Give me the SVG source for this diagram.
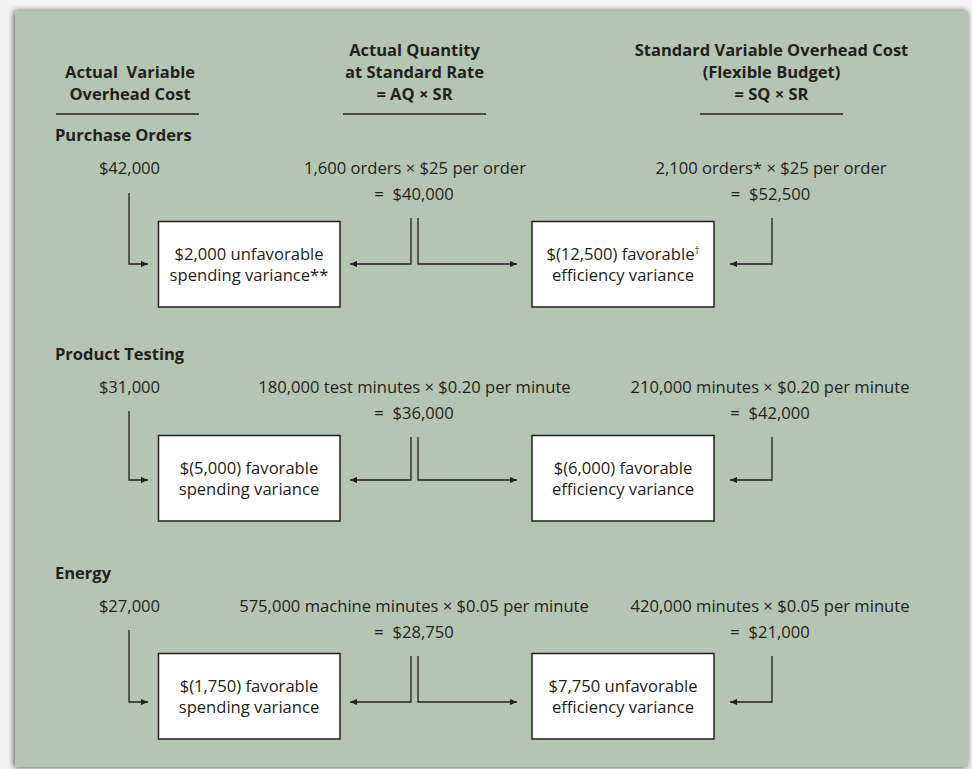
<svg xmlns="http://www.w3.org/2000/svg" width="972" height="769" viewBox="0 0 972 769">
<defs>
<style>
.t{font-family:"Open Sans","Liberation Sans",sans-serif;font-size:16.6px;fill:#231f20;text-anchor:middle}
.b{font-weight:bold;font-size:16.5px}
.l{text-anchor:start}
.ln{fill:none;stroke:#231f20;stroke-width:1.4}
.box{fill:#ffffff;stroke:#231f20;stroke-width:1.5}
.ar{fill:none;stroke:#231f20;stroke-width:1.3;marker-end:url(#ah)}
</style>
<marker id="ah" markerUnits="userSpaceOnUse" markerWidth="8" markerHeight="6" refX="7" refY="3" orient="auto">
<path d="M0,0 L7,3 L0,6 Z" fill="#231f20"/>
</marker>
<filter id="sh" x="-5%" y="-5%" width="110%" height="110%">
<feGaussianBlur in="SourceAlpha" stdDeviation="3"/>
<feOffset dx="-1" dy="0"/>
<feComponentTransfer><feFuncA type="linear" slope="0.7"/></feComponentTransfer>
<feMerge><feMergeNode/><feMergeNode in="SourceGraphic"/></feMerge>
</filter>
</defs>
<rect x="0" y="0" width="972" height="769" fill="#f4f4f4"/>
<rect x="15" y="11" width="953" height="756" fill="#b4c6b3" filter="url(#sh)"/>

<g id="headers">
<text class="t b" x="130" y="78">Actual&#160; Variable</text>
<text class="t b" x="130" y="100">Overhead Cost</text>
<line class="ln" x1="56" y1="114" x2="199" y2="114"/>
<text class="t b" x="414.5" y="56">Actual Quantity</text>
<text class="t b" x="414.5" y="78">at Standard Rate</text>
<text class="t b" x="414.5" y="100">= AQ × SR</text>
<line class="ln" x1="343" y1="114" x2="486" y2="114"/>
<text class="t b" x="771.5" y="56">Standard Variable Overhead Cost</text>
<text class="t b" x="771.5" y="78">(Flexible Budget)</text>
<text class="t b" x="771.5" y="100">= SQ × SR</text>
<line class="ln" x1="700" y1="114" x2="843" y2="114"/>
</g>

<g id="row-purchase-orders">
<text class="t b l" x="55" y="141">Purchase Orders</text>
<text class="t" x="129.5" y="174">$42,000</text>
<text class="t" x="415" y="174">1,600 orders × $25 per order</text>
<text class="t" x="414" y="200">=&#160; $40,000</text>
<text class="t" x="771" y="174">2,100 orders* × $25 per order</text>
<text class="t" x="770.5" y="200">=&#160; $52,500</text>
</g>
<g id="box-po-spending">
<rect class="box" x="158.5" y="221.5" width="181.5" height="85.5"/>
<text class="t" x="249" y="260">$2,000 unfavorable</text>
<text class="t" x="249" y="281">spending variance**</text>
</g>
<g id="box-po-efficiency">
<rect class="box" x="532" y="221.5" width="182" height="85.5"/>
<text class="t" x="623" y="260">$(12,500) favorable<tspan font-size="10" dy="-6">†</tspan></text>
<text class="t" x="623" y="281">efficiency variance</text>
</g>

<g id="row-product-testing">
<text class="t b l" x="55" y="360">Product Testing</text>
<text class="t" x="129.5" y="393">$31,000</text>
<text class="t" x="414.5" y="393">180,000 test minutes × $0.20 per minute</text>
<text class="t" x="414" y="419">=&#160; $36,000</text>
<text class="t" x="770" y="393">210,000 minutes × $0.20 per minute</text>
<text class="t" x="770" y="419">=&#160; $42,000</text>
</g>
<g id="box-pt-spending">
<rect class="box" x="158.5" y="435.5" width="181.5" height="85.5"/>
<text class="t" x="249" y="474">$(5,000) favorable</text>
<text class="t" x="249" y="495">spending variance</text>
</g>
<g id="box-pt-efficiency">
<rect class="box" x="532" y="435.5" width="182" height="85.5"/>
<text class="t" x="623" y="474">$(6,000) favorable</text>
<text class="t" x="623" y="495">efficiency variance</text>
</g>

<g id="row-energy">
<text class="t b l" x="55" y="579">Energy</text>
<text class="t" x="129.5" y="612">$27,000</text>
<text class="t" x="414" y="612">575,000 machine minutes × $0.05 per minute</text>
<text class="t" x="414" y="638">=&#160; $28,750</text>
<text class="t" x="770" y="612">420,000 minutes × $0.05 per minute</text>
<text class="t" x="770" y="638">=&#160; $21,000</text>
</g>
<g id="box-en-spending">
<rect class="box" x="158.5" y="653.5" width="181.5" height="85.5"/>
<text class="t" x="249" y="692">$(1,750) favorable</text>
<text class="t" x="249" y="713">spending variance</text>
</g>
<g id="box-en-efficiency">
<rect class="box" x="532" y="653.5" width="182" height="85.5"/>
<text class="t" x="623" y="692">$7,750 unfavorable</text>
<text class="t" x="623" y="713">efficiency variance</text>
</g>

<g id="connectors">
<path class="ar" d="M129,193 V264 H148"/>
<path class="ar" d="M411,218 V264 H350"/>
<path class="ar" d="M418,218 V264 H517"/>
<path class="ar" d="M772,218 V264 H730"/>

<path class="ar" d="M129,411 V480 H148"/>
<path class="ar" d="M411,437 V480 H350"/>
<path class="ar" d="M418,437 V480 H517"/>
<path class="ar" d="M772,437 V480 H730"/>

<path class="ar" d="M129,630 V702 H148"/>
<path class="ar" d="M411,656 V702 H350"/>
<path class="ar" d="M418,656 V702 H517"/>
<path class="ar" d="M772,656 V702 H730"/>
</g>
</svg>
